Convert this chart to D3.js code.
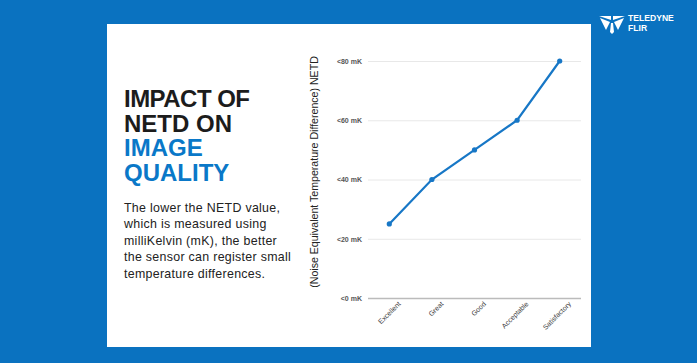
<!doctype html>
<meta charset="utf-8">
<title>Impact of NETD on image quality</title>
<style>
body { margin: 0; background: #0a72c0; }
svg { display: block; font-family: "Liberation Sans", Arial, sans-serif; }
.tick text { fill: #3a3a3a; font-size: 7px; }
.ytick .tick text { font-weight: bold; fill: #555; }
</style>
<script src="https://d3js.org/d3.v7.min.js"></script>
<body>
<script>
// chart data
var categories = ["Excellent", "Great", "Good", "Acceptable", "Satisfactory"];
var netd = [25, 40, 50, 60, 80];
var yTicks = [0, 20, 40, 60, 80];
var titleLines = ["IMPACT OF", "NETD ON", "IMAGE", "QUALITY"];
var bodyLines = ["The lower the NETD value,", "which is measured using",
  "milliKelvin (mK), the better", "the sensor can register small",
  "temperature differences."];

var W = 697, H = 363;
var blue = "#0a72c0", lineBlue = "#1777c6";

var svg = d3.select("body").append("svg").attr("width", W).attr("height", H);
svg.append("rect").attr("width", W).attr("height", H).attr("fill", blue);

// white card
svg.append("rect").attr("x", 107).attr("y", 24).attr("width", 484).attr("height", 323).attr("fill", "#fff");

// heading
svg.append("g").selectAll("text").data(titleLines).join("text")
  .attr("x", 124).attr("y", (d, i) => 107 + i * 24.5)
  .attr("font-size", 24).attr("font-weight", "bold")
  .attr("fill", (d, i) => i < 2 ? "#1c1c1c" : "#0a78c8")
  .attr("textLength", d => d == "IMPACT OF" ? 126 : null)
  .text(d => d);

svg.append("g").selectAll("text").data(bodyLines).join("text")
  .attr("x", 124).attr("y", (d, i) => 212 + i * 16.4)
  .attr("font-size", 12.4).attr("letter-spacing", 0.3).attr("fill", "#222")
  .text(d => d);

// chart
var x = d3.scalePoint().domain(categories).range([368, 581]).padding(0.5);
var y = d3.scaleLinear().domain([0, 80]).range([298, 61]);

var yAxis = svg.append("g").attr("class", "ytick").attr("transform", "translate(368,0)")
  .call(d3.axisLeft(y).tickValues(yTicks).tickSize(-213).tickPadding(6)
    .tickFormat(d => "<" + d + " mK"));
yAxis.select(".domain").remove();
yAxis.selectAll(".tick line").attr("stroke", d => d == 0 ? "#bbb" : "#e8e8e8").attr("stroke-width", d => d == 0 ? 1.5 : 1);

var xAxis = svg.append("g").attr("transform", "translate(0,298)")
  .call(d3.axisBottom(x).tickSize(0).tickPadding(8));
xAxis.select(".domain").remove();
xAxis.selectAll(".tick text")
  .attr("font-size", 7.5)
  .attr("text-anchor", "end")
  .attr("transform", "translate(4,-1) rotate(-45)")
  .attr("dy", "0.35em");

svg.append("text")
  .attr("transform", "translate(318,172) rotate(-90)")
  .attr("text-anchor", "middle").attr("font-size", 10.6).attr("fill", "#222")
  .text("(Noise Equivalent Temperature Difference) NETD");

var line = d3.line().x((d, i) => x(categories[i])).y(d => y(d));
svg.append("path").datum(netd).attr("d", line)
  .attr("fill", "none").attr("stroke", lineBlue).attr("stroke-width", 2.2);
svg.append("g").selectAll("circle").data(netd).join("circle")
  .attr("cx", (d, i) => x(categories[i])).attr("cy", d => y(d))
  .attr("r", 2.6).attr("fill", lineBlue);

// logo
var logo = svg.append("g").attr("transform", "translate(612,22)").attr("fill", "#fff");
logo.append("path").attr("d", "M-13,-6 L-1,-6 L-1,-2 Z M1,-6 L13,-6 L1,-2 Z M-12,-4 L-2,0 L-6,8 Z M12,-4 L2,0 L6,8 Z M-1,1 L1,1 L2,10 L0,12 L-2,10 Z");
logo.append("text").attr("x", 16).attr("y", -1).attr("font-size", 8.6).attr("font-weight", "bold").text("TELEDYNE");
logo.append("text").attr("x", 16).attr("y", 9).attr("font-size", 8.6).attr("font-weight", "bold").text("FLIR");
</script>
</body>
